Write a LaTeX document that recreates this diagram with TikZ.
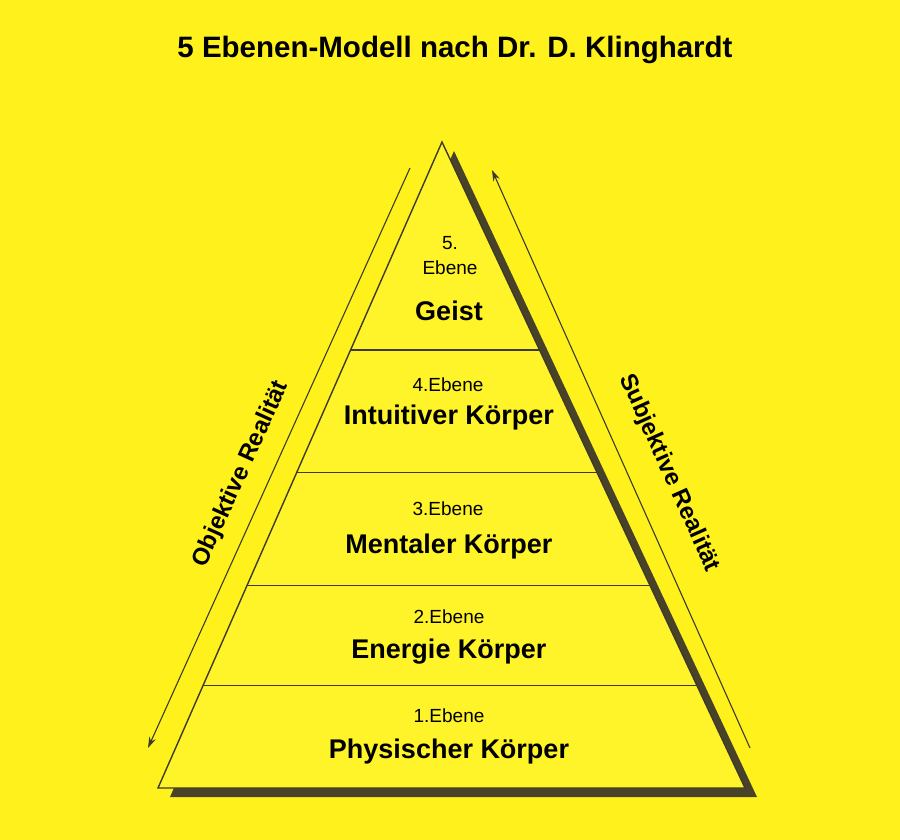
\documentclass[tikz,border=0pt]{standalone}
\usepackage{fontspec}
\setmainfont{Liberation Sans}
\usetikzlibrary{calc,arrows.meta}
\definecolor{bgyellow}{RGB}{255,242,28}
\definecolor{pyryellow}{RGB}{255,244,42}
\definecolor{shadowgray}{RGB}{72,66,40}
\definecolor{linegray}{RGB}{62,58,40}

\begin{document}
\begin{tikzpicture}[x=1pt, y=-1pt, >={Stealth[length=11pt,width=7pt]},
		numlabel/.style={font=\fontsize{19}{25}\selectfont, inner sep=0pt, align=center},
		namelabel/.style={font=\fontsize{27}{32}\selectfont\bfseries, inner sep=0pt},
		sidelabel/.style={font=\fontsize{24}{28}\selectfont\bfseries, inner sep=0pt}]
	% background
	\fill[bgyellow] (0,0) rectangle (900,840);
	\useasboundingbox (0,0) rectangle (900,840);
	\node[font=\fontsize{29.5}{34}\selectfont\bfseries] (title) at (455,50) {5 Ebenen-Modell nach Dr. D. Klinghardt};
	% corners of the pyramid
	\coordinate (top) at (442,142);
	\coordinate (bl) at (158,788);
	\coordinate (br) at (745,788);
	% shadow, then the pyramid on top of it
	\fill[shadowgray] ($(top)+(12,9)$) -- ($(br)+(12,9)$) -- ($(bl)+(12,9)$) -- cycle;
	\filldraw[fill=pyryellow, draw=linegray, line width=1.4pt] (top) -- (br) -- (bl) -- cycle;
	% borders between the levels
	\foreach \t in {0.322,0.511,0.686,0.842} {
		\draw[linegray, line width=1.1pt] ($(top)!\t!(bl)$) -- ($(top)!\t!(br)$);
	}
	% level texts
	\node[numlabel] (num5) at (450,256) {5.\\Ebene};
	\node[namelabel] (geist) at (449,311) {Geist};
	\node[numlabel] (num4) at (448,385) {4.Ebene};
	\node[namelabel] (intuitiv) at (449,418) {Intuitiver Körper};
	\node[numlabel] (num3) at (448,509) {3.Ebene};
	\node[namelabel] (mental) at (449,547) {Mentaler Körper};
	\node[numlabel] (num2) at (449,617) {2.Ebene};
	\node[namelabel] (energie) at (449,652) {Energie Körper};
	\node[numlabel] (num1) at (449,716) {1.Ebene};
	\node[namelabel] (physisch) at (449,752) {Physischer Körper};
	% objective reality, left
	\coordinate (objtop) at (410,168);
	\coordinate (objbot) at (148,748);
	\draw[->, linegray, line width=1.1pt] (objtop) -- (objbot);
	\node[sidelabel, rotate=65.6] (objektiv) at (241,474) {Objektive Realität};
	% subjective reality, right
	\coordinate (subbot) at (750,748);
	\coordinate (subtop) at (492,170);
	\draw[->, linegray, line width=1.1pt] (subbot) -- (subtop);
	\node[sidelabel, rotate=-65.8] (subjektiv) at (669,473) {Subjektive Realität};
\end{tikzpicture}
\end{document}
